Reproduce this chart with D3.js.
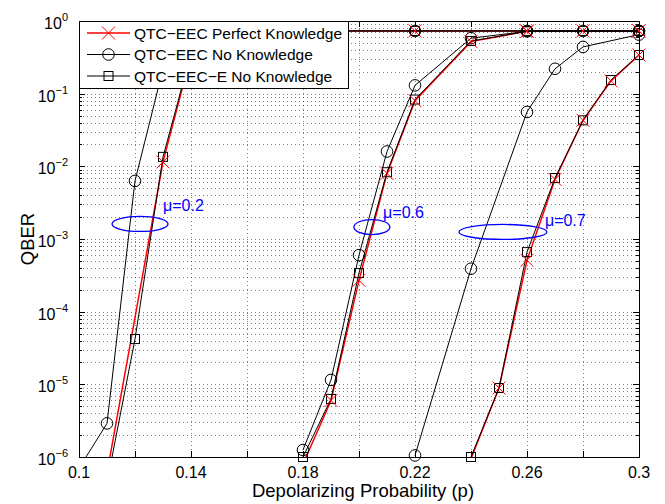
<!DOCTYPE html>
<html>
<head>
<meta charset="utf-8">
<script src="https://cdn.jsdelivr.net/npm/d3@7"></script>
<style>
  html, body { margin: 0; padding: 0; background: #fff; overflow: hidden; }
  text { font-family: "Liberation Sans", Arial, Helvetica, sans-serif; }
</style>
</head>
<body>
<div id="chart"></div>
<script>
// x-axis ticks (every 0.02, labelled every 0.04)
const xTicks = [0.1, 0.12, 0.14, 0.16, 0.18, 0.2, 0.22, 0.24, 0.26, 0.28, 0.3]
const xTickLabels = ['0.1', '', '0.14', '', '0.18', '', '0.22', '', '0.26', '', '0.3']
// y-axis decades (QBER, log scale)
const yDecades = [-6, -5, -4, -3, -2, -1, 0]

// mu = 0.2
const pMu02Perfect = [0.11, 0.13, 0.14, 0.18, 0.22, 0.26, 0.28, 0.3]
const qMu02Perfect = [6e-7, 0.0115, 0.34, 0.73, 0.73, 0.73, 0.73, 0.73]
const pMu02None = [0.1, 0.11, 0.12, 0.13, 0.14, 0.18, 0.22, 0.26, 0.28, 0.3]
const qMu02None = [7e-7, 2.9e-6, 6.3e-3, 0.22, 0.7, 0.73, 0.73, 0.73, 0.73, 0.73]
const pMu02E = [0.11, 0.12, 0.13, 0.14, 0.18, 0.22, 0.26, 0.28, 0.3]
const qMu02E = [4.4e-7, 4.2e-5, 0.0135, 0.36, 0.73, 0.73, 0.73, 0.73, 0.73]

// mu = 0.6
const pMu06 = [0.18, 0.19, 0.2, 0.21, 0.22, 0.24, 0.26, 0.3]
const qMu06Perfect = [8e-7, 6e-6, 2.7e-4, 8e-3, 0.08, 0.52, 0.72, 0.73]
const qMu06None = [1.25e-6, 1.15e-5, 6e-4, 0.016, 0.13, 0.58, 0.72, 0.73]
const qMu06E = [1.0e-6, 6.3e-6, 3.4e-4, 8.3e-3, 0.083, 0.53, 0.72, 0.73]

// mu = 0.7
const pMu07 = [0.24, 0.25, 0.26, 0.27, 0.28, 0.29, 0.3]
const qMu07Perfect = [9.5e-7, 8.9e-6, 5.1e-4, 6.6e-3, 0.043, 0.15, 0.34]
const qMu07E = [1.0e-6, 8.9e-6, 6.6e-4, 6.9e-3, 0.043, 0.154, 0.34]
const pMu07None = [0.22, 0.24, 0.26, 0.27, 0.28, 0.3]
const qMu07None = [1.05e-6, 3.9e-4, 0.056, 0.22, 0.44, 0.65]

// legend entries
const legendLabels = ['QTC\u2212EEC Perfect Knowledge', 'QTC\u2212EEC No Knowledge', 'QTC\u2212EEC\u2212E No Knowledge']
const legendKinds = ['perfect', 'none', 'e']

// mu annotations: ellipse centre and label position in data units
const muLabels = ['\u03bc=0.2', '\u03bc=0.6', '\u03bc=0.7']
const muCx = [0.1218, 0.2046, 0.2514]
const muCy = [1.61e-3, 1.46e-3, 1.25e-3]
const muLx = [0.130, 0.2086, 0.2664]
const muLy = [2.94e-3, 2.35e-3, 1.83e-3]
const muRx = [28, 18, 44]

const W = 665
const H = 504
const m = { left: 79, right: 26, top: 21, bottom: 47 }

const x = d3.scaleLinear().domain([0.1, 0.3]).range([m.left, W - m.right])
const y = d3.scaleLog().domain([1e-6, 1]).range([H - m.bottom, m.top])

const svg = d3.select('#chart').append('svg')
  .attr('width', W)
  .attr('height', H)

svg.append('defs').append('clipPath').attr('id', 'plot-clip')
  .append('rect')
  .attr('x', m.left).attr('y', m.top)
  .attr('width', x.range()[1] - m.left)
  .attr('height', y.range()[0] - m.top)

// every minor/major log tick value
const yMinor = []
yDecades.slice(0, -1).forEach(e => {
  for (let k = 2; k <= 9; k++) yMinor.push(k * Math.pow(10, e))
})
const yMajor = yDecades.map(e => Math.pow(10, e))

// dotted grid
const grid = svg.append('g')
  .attr('stroke', '#000')
  .attr('stroke-width', 1)
  .attr('stroke-dasharray', '1,3')
  .attr('stroke-opacity', 0.5)
grid.selectAll('.gy').data(yMajor.concat(yMinor)).join('line')
  .attr('x1', x.range()[0]).attr('x2', x.range()[1])
  .attr('y1', d => Math.round(y(d)) + 0.5).attr('y2', d => Math.round(y(d)) + 0.5)
grid.selectAll('.gx').data(xTicks).join('line')
  .attr('x1', d => Math.round(x(d)) + 0.5).attr('x2', d => Math.round(x(d)) + 0.5)
  .attr('y1', y.range()[1]).attr('y2', y.range()[0])

// axes box
svg.append('rect')
  .attr('x', m.left + 0.5).attr('y', m.top + 0.5)
  .attr('width', x.range()[1] - m.left).attr('height', y.range()[0] - m.top)
  .attr('fill', 'none').attr('stroke', '#000')

// inward ticks on all four sides
const ticks = svg.append('g').attr('stroke', '#000').attr('stroke-width', 1)
const xt = xTicks.map(d => Math.round(x(d)) + 0.5)
ticks.selectAll('.tb').data(xt).join('line')
  .attr('x1', d => d).attr('x2', d => d)
  .attr('y1', y.range()[0]).attr('y2', y.range()[0] - 6)
ticks.selectAll('.tt').data(xt).join('line')
  .attr('x1', d => d).attr('x2', d => d)
  .attr('y1', y.range()[1]).attr('y2', y.range()[1] + 6)
const yt = yMajor.map(d => ({ v: Math.round(y(d)) + 0.5, len: 6 }))
  .concat(yMinor.map(d => ({ v: Math.round(y(d)) + 0.5, len: 3 })))
ticks.selectAll('.tl').data(yt).join('line')
  .attr('x1', x.range()[0]).attr('x2', d => x.range()[0] + d.len)
  .attr('y1', d => d.v).attr('y2', d => d.v)
ticks.selectAll('.tr').data(yt).join('line')
  .attr('x1', x.range()[1]).attr('x2', d => x.range()[1] - d.len)
  .attr('y1', d => d.v).attr('y2', d => d.v)

// tick labels
svg.append('g').selectAll('text').data(xTicks).join('text')
  .attr('x', d => x(d))
  .attr('y', y.range()[0] + 21)
  .attr('text-anchor', 'middle')
  .attr('font-size', 16)
  .text((d, i) => xTickLabels[i])

const yl = svg.append('g').selectAll('text').data(yDecades).join('text')
  .attr('x', m.left - 11)
  .attr('y', d => y(Math.pow(10, d)) + 8)
  .attr('text-anchor', 'end')
  .attr('font-size', 16)
yl.append('tspan').text('10')
yl.append('tspan')
  .attr('font-size', 11)
  .attr('dy', -8)
  .text(d => d === 0 ? '0' : '\u2212' + Math.abs(d))

// axis titles
svg.append('text')
  .attr('x', (x.range()[0] + x.range()[1]) / 2 + 4)
  .attr('y', 497)
  .attr('text-anchor', 'middle')
  .attr('font-size', 18.5)
  .text('Depolarizing Probability (p)')
svg.append('text')
  .attr('transform', `translate(34,${(y.range()[0] + y.range()[1]) / 2}) rotate(-90)`)
  .attr('text-anchor', 'middle')
  .attr('font-size', 18.5)
  .text('QBER')

// series
const series = [
  { x: pMu02E, y: qMu02E, kind: 'e' },
  { x: pMu02None, y: qMu02None, kind: 'none' },
  { x: pMu02Perfect, y: qMu02Perfect, kind: 'perfect' },
  { x: pMu06, y: qMu06E, kind: 'e' },
  { x: pMu06, y: qMu06None, kind: 'none' },
  { x: pMu06, y: qMu06Perfect, kind: 'perfect' },
  { x: pMu07, y: qMu07E, kind: 'e' },
  { x: pMu07None, y: qMu07None, kind: 'none' },
  { x: pMu07, y: qMu07Perfect, kind: 'perfect' }
].map(s => ({ kind: s.kind, pts: s.x.map((v, i) => [v, s.y[i]]) }))

const colorOf = k => k === 'perfect' ? '#ff0000' : '#000'
const widthOf = k => k === 'perfect' ? 1.5 : 1
const line = d3.line().x(d => x(d[0])).y(d => y(d[1]))

// red curves underneath, black ones on top so the overlaps read dark
const lines = svg.append('g').attr('clip-path', 'url(#plot-clip)')
;['perfect', 'e', 'none'].forEach(k => {
  lines.selectAll(null).data(series.filter(s => s.kind === k)).join('path')
    .attr('d', s => line(s.pts))
    .attr('fill', 'none')
    .attr('stroke', colorOf(k))
    .attr('stroke-width', widthOf(k))
})

function drawMarker (g, kind, cx, cy) {
  if (kind === 'none') {
    g.append('circle').attr('cx', cx).attr('cy', cy).attr('r', 5.8)
      .attr('fill', 'none').attr('stroke', '#000').attr('stroke-width', 1)
  } else if (kind === 'e') {
    g.append('rect').attr('x', cx - 4.5).attr('y', cy - 4.5)
      .attr('width', 9).attr('height', 9)
      .attr('fill', 'none').attr('stroke', '#000').attr('stroke-width', 1)
  } else {
    const s = 6.5
    g.append('path')
      .attr('d', `M${cx - s},${cy - s}L${cx + s},${cy + s}M${cx - s},${cy + s}L${cx + s},${cy - s}`)
      .attr('stroke', '#ff0000').attr('stroke-width', 1).attr('fill', 'none')
  }
}

const markers = svg.append('g')
;['e', 'none', 'perfect'].forEach(k => {
  series.filter(s => s.kind === k).forEach(s => {
    s.pts.filter(d => d[1] >= 1e-6 && d[1] <= 1).forEach(d => {
      drawMarker(markers, k, x(d[0]), y(d[1]))
    })
  })
})

// mu annotations
const ann = svg.append('g')
muLabels.forEach((t, i) => {
  ann.append('ellipse')
    .attr('cx', x(muCx[i])).attr('cy', y(muCy[i]))
    .attr('rx', muRx[i]).attr('ry', 7.5)
    .attr('fill', 'none').attr('stroke', '#0000ff').attr('stroke-width', 1.3)
  ann.append('text')
    .attr('x', x(muLx[i])).attr('y', y(muLy[i]) + 6)
    .attr('font-size', 16)
    .attr('fill', '#0000ff')
    .text(t)
})

// legend
const lg = svg.append('g')
lg.append('rect')
  .attr('x', m.left + 0.5).attr('y', m.top + 0.5)
  .attr('width', 269).attr('height', 67)
  .attr('fill', '#fff').attr('stroke', '#000')
legendLabels.forEach((t, i) => {
  const ry = 33 + i * 21.5
  lg.append('line')
    .attr('x1', 87).attr('x2', 130).attr('y1', ry).attr('y2', ry)
    .attr('stroke', colorOf(legendKinds[i]))
    .attr('stroke-width', widthOf(legendKinds[i]))
  drawMarker(lg, legendKinds[i], 108.5, ry)
  lg.append('text')
    .attr('x', 134).attr('y', ry + 5.5)
    .attr('font-size', 15.5)
    .text(t)
})
</script>
</body>
</html>
